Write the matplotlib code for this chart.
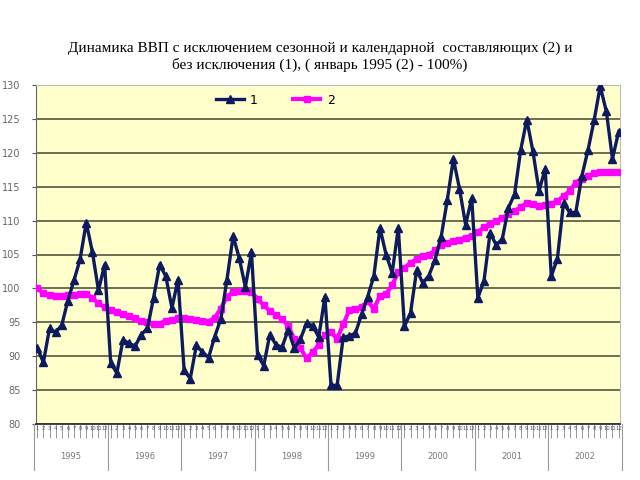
import matplotlib
matplotlib.use("Agg")
import matplotlib.pyplot as plt
import matplotlib.transforms as mtransforms
import numpy as np

years = ["1995", "1996", "1997", "1998", "1999", "2000", "2001", "2002"]
months = [str(m) for m in range(1, 13)]

s1_1995 = [91.2, 89.1, 94.1, 93.5, 94.6, 98.2, 101.2, 104.3, 109.7, 105.4, 99.7, 103.5]
s1_1996 = [89.0, 87.5, 92.4, 91.9, 91.5, 93.2, 94.1, 98.6, 103.5, 101.8, 97.1, 101.3]
s1_1997 = [87.9, 86.7, 91.6, 90.6, 89.8, 92.9, 95.5, 101.3, 107.7, 104.5, 100.2, 105.3]
s1_1998 = [90.2, 88.6, 93.2, 91.7, 91.3, 93.9, 91.2, 92.5, 94.9, 94.5, 92.8, 98.8]
s1_1999 = [85.7, 85.7, 92.8, 93.0, 93.4, 96.2, 98.8, 101.8, 108.9, 105.0, 102.3, 108.9]
s1_2000 = [94.4, 96.4, 102.7, 100.8, 101.9, 104.2, 107.6, 113.0, 119.1, 114.7, 109.4, 113.3]
s1_2001 = [98.6, 101.1, 108.2, 106.4, 107.3, 111.9, 113.9, 120.4, 124.9, 120.2, 114.4, 117.6]
s1_2002 = [101.8, 104.4, 112.6, 111.2, 111.2, 116.6, 120.4, 124.8, 129.8, 126.1, 119.1, 123.1]

s2_1995 = [100.0, 99.3, 99.0, 98.9, 98.9, 99.0, 99.1, 99.2, 99.2, 98.6, 97.8, 97.2]
s2_1996 = [96.8, 96.5, 96.2, 95.9, 95.6, 95.2, 95.0, 94.8, 94.8, 95.2, 95.4, 95.6]
s2_1997 = [95.6, 95.5, 95.4, 95.2, 95.1, 95.7, 97.0, 98.8, 99.5, 99.6, 99.6, 99.4]
s2_1998 = [98.5, 97.5, 96.7, 96.1, 95.5, 94.5, 92.5, 91.2, 89.7, 90.6, 91.7, 93.2]
s2_1999 = [93.5, 92.6, 94.7, 96.8, 97.0, 97.3, 98.1, 97.0, 98.9, 99.2, 100.5, 102.4]
s2_2000 = [103.0, 103.8, 104.3, 104.8, 105.0, 105.6, 106.4, 106.7, 107.0, 107.2, 107.5, 107.8]
s2_2001 = [108.3, 109.0, 109.5, 110.0, 110.4, 111.0, 111.4, 112.0, 112.6, 112.4, 112.2, 112.3]
s2_2002 = [112.5, 112.9, 113.6, 114.4, 115.6, 116.2, 116.6, 117.0, 117.1, 117.2, 117.2, 117.2]

series1 = s1_1995 + s1_1996 + s1_1997 + s1_1998 + s1_1999 + s1_2000 + s1_2001 + s1_2002
series2 = s2_1995 + s2_1996 + s2_1997 + s2_1998 + s2_1999 + s2_2000 + s2_2001 + s2_2002
x = np.arange(len(series1))

fig = plt.figure(figsize=(6.4, 4.8), dpi=100)
ax = fig.add_axes([36/640, 1-424/480, 584/640, 339/480])
ax.set_facecolor("#FFFFCC")

ax.plot(x, series2, color="#FF00FF", lw=3, marker="s", ms=5, mec="#FF00FF", label="2", zorder=3)
ax.plot(x, series1, color="#0D1B5E", lw=2.4, marker="^", ms=6, mec="#0D1B5E", label="1", zorder=4)

ax.set_xlim(-0.21, 95.23)
ax.set_ylim(80, 130)
ax.set_yticks(np.arange(80, 131, 5))
ax.yaxis.grid(True, color="#55553F", lw=1.2)
ax.set_axisbelow(True)
ax.tick_params(axis="y", length=3, pad=8, labelsize=7, labelcolor="#666666", color="#555555")
for sp in ["top", "right"]:
    ax.spines[sp].set_color("#BBBBBB")
ax.spines["left"].set_color("#666666")
ax.spines["bottom"].set_color("#333333")
ax.spines["bottom"].set_linewidth(1.3)

ax.set_xticks(x)
ax.set_xticklabels([])
ax.tick_params(axis="x", length=10, color="#888888", width=0.6)

trans = mtransforms.blended_transform_factory(ax.transData, ax.transAxes)
for i in x:
    ax.text(i, -0.012, months[i % 12], transform=trans, ha="center", va="center",
            fontsize=3.8, color="#555555", clip_on=False)
for k, yr in enumerate(years):
    ax.text(k*12 + 5.5, -0.095, yr, transform=trans, ha="center", va="center",
            fontsize=6, color="#777777", clip_on=False)
for k in range(len(years) + 1):
    ax.plot([k*12 - 0.5, k*12 - 0.5], [0, -0.135], transform=trans, color="#999999",
            lw=0.8, clip_on=False)

h, l = ax.get_legend_handles_labels()
leg = ax.legend(h[::-1], l[::-1], ncol=2, loc="center", bbox_to_anchor=(0.41, 0.955),
                frameon=False, fontsize=9, handlelength=2.2, columnspacing=2.8,
                handletextpad=0.5)

fig.text(0.5, 0.881, "Динамика ВВП с исключением сезонной и календарной  составляющих (2) и\nбез исключения (1), ( январь 1995 (2) - 100%)",
         ha="center", va="center", fontsize=11, family="Liberation Serif", linespacing=1.25)

fig.savefig("out.png", dpi=100)
